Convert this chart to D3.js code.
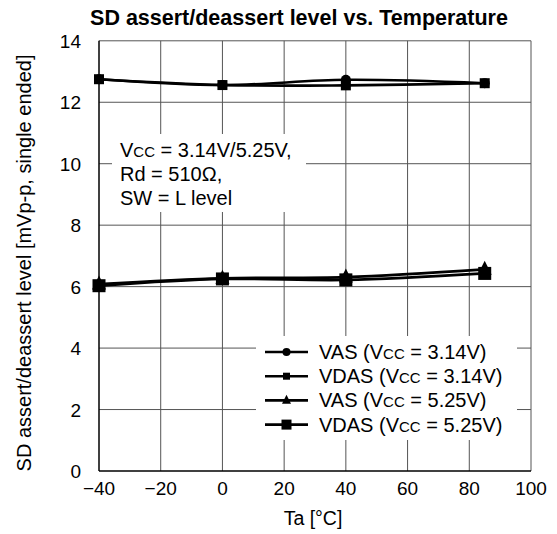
<!DOCTYPE html>
<html><head><meta charset="utf-8">
<script src="https://cdn.jsdelivr.net/npm/d3@7"></script>
<style>body{margin:0;background:#fff}svg{display:block}text{font-family:"Liberation Sans",Arial,sans-serif;fill:#000}</style>
</head><body>
<svg id="c" width="557" height="534"></svg>
<script>
const temps = [-40, 0, 40, 85];
const vas314 = [12.75, 12.56, 12.73, 12.62];
const vdas314 = [12.75, 12.56, 12.55, 12.62];
const vas525 = [6.08, 6.27, 6.31, 6.56];
const vdas525 = [6.03, 6.25, 6.22, 6.43];
const xTicks = [-40, -20, 0, 20, 40, 60, 80, 100];
const yTicks = [0, 2, 4, 6, 8, 10, 12, 14];
const xTickLabels = ["\u221240", "\u221220", "0", "20", "40", "60", "80", "100"];

const W = 557, H = 534;
const L = 99, R = 531, T = 40.8, B = 471;
const svg = d3.select("#c");
const x = d3.scaleLinear().domain([-40, 100]).range([L, R]);
const y = d3.scaleLinear().domain([0, 14]).range([B, T]);

// grid
const g = svg.append("g");
g.selectAll(".gx").data(xTicks.slice(1)).enter().append("line")
  .attr("x1", d => x(d)).attr("x2", d => x(d)).attr("y1", T).attr("y2", B)
  .attr("stroke", "#555").attr("stroke-width", 1);
g.selectAll(".gy").data(yTicks.slice(1)).enter().append("line")
  .attr("x1", L).attr("x2", R).attr("y1", d => y(d)).attr("y2", d => y(d))
  .attr("stroke", "#555").attr("stroke-width", 1);
// axes
svg.append("line").attr("x1", L).attr("x2", L).attr("y1", T).attr("y2", B).attr("stroke", "#000").attr("stroke-width", 1.5);
svg.append("line").attr("x1", L).attr("x2", R).attr("y1", B).attr("y2", B).attr("stroke", "#000").attr("stroke-width", 1.5);

// tick labels
svg.selectAll(".xl").data(xTicks).enter().append("text")
  .attr("x", d => x(d)).attr("y", 495).attr("text-anchor", "middle")
  .attr("font-size", 19).text((d, i) => xTickLabels[i]);
svg.selectAll(".yl").data(yTicks).enter().append("text")
  .attr("x", 81).attr("y", d => y(d) + 7).attr("text-anchor", "end")
  .attr("font-size", 19).text(d => d);

// titles
svg.append("text").attr("x", 299).attr("y", 25).attr("text-anchor", "middle")
  .attr("font-size", 21.5).attr("font-weight", "bold").text("SD assert/deassert level vs. Temperature");
svg.append("text").attr("x", 313).attr("y", 525).attr("text-anchor", "middle")
  .attr("font-size", 19.5).text("Ta [\u00b0C]");
svg.append("text").attr("transform", "translate(31,263) rotate(-90)").attr("text-anchor", "middle")
  .attr("font-size", 20).text("SD assert/deassert level [mVp-p, single ended]");

// annotation box
svg.append("rect").attr("x", 112).attr("y", 134).attr("width", 194).attr("height", 78).attr("fill", "#fff");
const ann = svg.append("g").attr("font-size", 20);
const a1 = ann.append("text").attr("x", 120).attr("y", 157);
a1.append("tspan").text("V");
a1.append("tspan").attr("font-size", 15).text("CC");
a1.append("tspan").text(" = 3.14V/5.25V,");
ann.append("text").attr("x", 120).attr("y", 181).text("Rd = 510\u03a9,");
ann.append("text").attr("x", 120).attr("y", 205).text("SW = L level");

// lines
const line = d3.line().x(d => x(d[0])).y(d => y(d[1])).curve(d3.curveCatmullRom);
const series = [
  {name: "VAS", vcc: "3.14V", vals: vas314, marker: "circle", ms: 5, lw: 2.6},
  {name: "VDAS", vcc: "3.14V", vals: vdas314, marker: "square", ms: 10, lw: 2.6},
  {name: "VAS", vcc: "5.25V", vals: vas525, marker: "triangle", ms: 14, lw: 2.8},
  {name: "VDAS", vcc: "5.25V", vals: vdas525, marker: "bigsquare", ms: 13, lw: 2.8}
];
function drawMarker(sel, type, s, cx, cy) {
  if (type === "circle") sel.append("circle").attr("cx", cx).attr("cy", cy).attr("r", s).attr("fill", "#000");
  else if (type === "square" || type === "bigsquare") sel.append("rect").attr("x", cx - s/2).attr("y", cy - s/2).attr("width", s).attr("height", s).attr("fill", "#000");
  else if (type === "triangle") sel.append("path").attr("d", `M${cx},${cy - s*0.62}L${cx + s/2},${cy + s*0.38}L${cx - s/2},${cy + s*0.38}Z`).attr("fill", "#000");
}
series.forEach(s => {
  svg.append("path").attr("d", line(temps.map((t, i) => [t, s.vals[i]])))
    .attr("fill", "none").attr("stroke", "#000").attr("stroke-width", s.lw);
});
series.forEach(s => {
  const mg = svg.append("g");
  temps.forEach((t, i) => drawMarker(mg, s.marker, s.ms, x(t), y(s.vals[i])));
});

// legend
svg.append("rect").attr("x", 256).attr("y", 336).attr("width", 261).attr("height", 104).attr("fill", "#fff");
const legSizes = {circle: 4, square: 7, triangle: 9, bigsquare: 10};
series.forEach((s, i) => {
  const ly = 352 + i * 24.2;
  const lg = svg.append("g");
  lg.append("line").attr("x1", 265).attr("x2", 308).attr("y1", ly).attr("y2", ly).attr("stroke", "#000").attr("stroke-width", 2.6);
  drawMarker(lg, s.marker, legSizes[s.marker], 286.5, ly);
  const t = lg.append("text").attr("x", 319).attr("y", ly + 7).attr("font-size", 20);
  t.append("tspan").text(s.name + " (V");
  t.append("tspan").attr("font-size", 15).text("CC");
  t.append("tspan").text(" = " + s.vcc + ")");
});
</script>
</body></html>
